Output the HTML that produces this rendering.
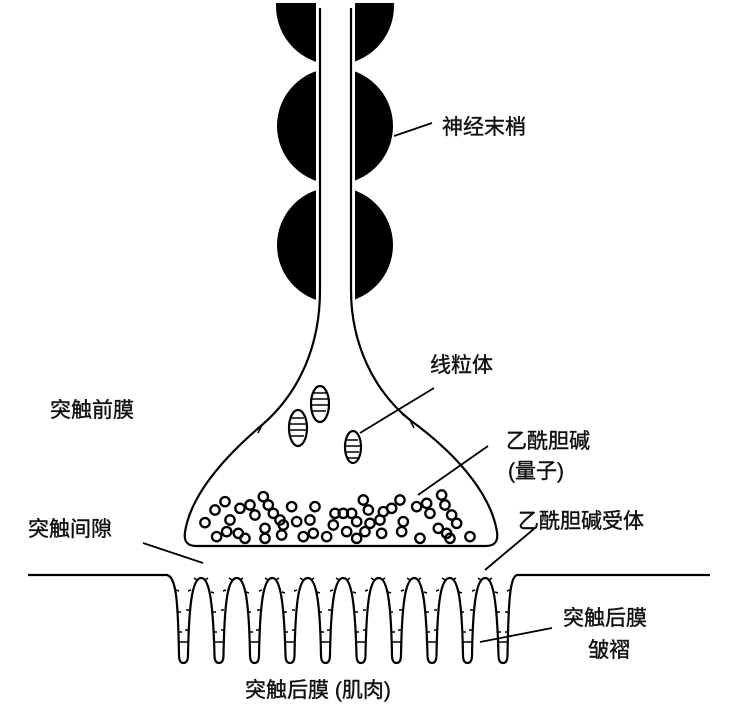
<!DOCTYPE html>
<html><head><meta charset="utf-8"><style>
html,body{margin:0;padding:0;background:#fff;}
svg{display:block;}
text{font-family:"Liberation Sans","Noto Sans CJK SC",sans-serif;font-size:21px;fill:#111;stroke:#111;stroke-width:0.4;}
</style></head><body>
<svg width="737" height="720" viewBox="0 0 737 720" xmlns="http://www.w3.org/2000/svg">
<defs>
<clipPath id="cl"><rect x="0" y="3" width="316" height="300"/></clipPath>
<clipPath id="cr"><rect x="355" y="3" width="100" height="300"/></clipPath>
</defs>
<g clip-path="url(#cl)" fill="#000">
<circle cx="335" cy="6" r="59"/><circle cx="335" cy="126" r="58"/><circle cx="335" cy="245" r="58"/>
</g>
<g clip-path="url(#cr)" fill="#000">
<circle cx="335" cy="6" r="59"/><circle cx="335" cy="126" r="58"/><circle cx="335" cy="245" r="58"/>
</g>
<g fill="none" stroke="#000" stroke-width="2.2">
<path d="M320,8 L320,290 C320,345 300,392 262,425 C215,465 190,500 185,532 Q183,546 196,546 L486,546 Q499,546 497,532 C492,500 465,460 410,420 C375,392 351,345 351,290 L351,8"/>
<path d="M262,425 L270,418 M262,425 L258,433" stroke-width="1.6"/>
<path d="M410,420 L402,414 M410,420 L414,428" stroke-width="1.6"/>
<path d="M394,136 L432,123" stroke-width="1.8"/>
<path d="M434,388 L360,433" stroke-width="1.8"/>
<path d="M488,446 L418,495" stroke-width="1.8"/>
<path d="M143,543 L203,563" stroke-width="1.8"/>
<path d="M535,528 L485,570" stroke-width="1.8"/>
<path d="M552,628 L480,642" stroke-width="1.8"/>
<path d="M28,575 L167,575 C176,577 178,600 179,655 Q179,663 183.5,663 Q188,663 188,655 C189,600 193,578 201.3,578 C209,578 213,600 214.5,655 Q214.5,663 219,663 Q223.5,663 223.5,655 C224.5,600 228,578 236.8,578 C245,578 249,600 250,655 Q250,663 254.5,663 Q259,663 259,655 C260,600 264,578 272.3,578 C280,578 284,600 285.5,655 Q285.5,663 290,663 Q294.5,663 294.5,655 C295.5,600 299,578 307.8,578 C316,578 320,600 321,655 Q321,663 325.5,663 Q330,663 330,655 C331,600 335,578 343.3,578 C351,578 355,600 356.5,655 Q356.5,663 361,663 Q365.5,663 365.5,655 C366.5,600 370,578 378.8,578 C387,578 391,600 392,655 Q392,663 396.5,663 Q401,663 401,655 C402,600 406,578 414.3,578 C422,578 426,600 427.5,655 Q427.5,663 432,663 Q436.5,663 436.5,655 C437.5,600 441,578 449.8,578 C458,578 462,600 463,655 Q463,663 467.5,663 Q472,663 472,655 C473,600 477,578 485.3,578 C493,578 497,600 498.5,655 Q498.5,663 503,663 Q507.5,663 507.5,655 C508.5,600 510,577 517,575 L710,575"/>
<g stroke-width="1.5">
<path d="M179,642h9M214.5,642h9M250,642h9M285.5,642h9M321,642h9M356.5,642h9M392,642h9M427.5,642h9M463,642h9M498.5,642h9"/>
</g>
<g stroke-width="1.5">
<path d="M197,580l-3,-2M205,580l3,-2M191,590l-3,1M211,592l3,1M189,610l-3,0M213,612l3,0M188,630l-3,0M214,632l3,0"/>
<path d="M232,580l-3,-2M240,580l3,-2M226,590l-3,1M246,592l3,1M224,610l-3,0M248,612l3,0M224,630l-3,0M250,632l3,0"/>
<path d="M268,580l-3,-2M276,580l3,-2M262,590l-3,1M282,592l3,1M260,610l-3,0M284,612l3,0M259,630l-3,0M285,632l3,0"/>
<path d="M303,580l-3,-2M311,580l3,-2M297,590l-3,1M317,592l3,1M295,610l-3,0M319,612l3,0M295,630l-3,0M321,632l3,0"/>
<path d="M339,580l-3,-2M347,580l3,-2M333,590l-3,1M353,592l3,1M331,610l-3,0M355,612l3,0M330,630l-3,0M356,632l3,0"/>
<path d="M374,580l-3,-2M382,580l3,-2M368,590l-3,1M388,592l3,1M366,610l-3,0M390,612l3,0M366,630l-3,0M392,632l3,0"/>
<path d="M410,580l-3,-2M418,580l3,-2M404,590l-3,1M424,592l3,1M402,610l-3,0M426,612l3,0M401,630l-3,0M427,632l3,0"/>
<path d="M445,580l-3,-2M453,580l3,-2M439,590l-3,1M459,592l3,1M437,610l-3,0M461,612l3,0M437,630l-3,0M463,632l3,0"/>
<path d="M481,580l-3,-2M489,580l3,-2M475,590l-3,1M495,592l3,1M473,610l-3,0M497,612l3,0M472,630l-3,0M498,632l3,0"/>
<path d="M176,590l3,1M178,612l3,0M179,632l3,0M510,590l-3,1M508,612l-3,0M508,632l-3,0"/>
</g>
<ellipse cx="298" cy="428" rx="9" ry="18"/>
<ellipse cx="320" cy="404" rx="9" ry="18"/>
<ellipse cx="353" cy="447" rx="8" ry="16"/>
<path d="M290,418h14M289,424h17M289,430h17M290,436h14M312,393h14M311,399h17M311,405h17M312,411h14M346,440h12M345,446h15M346,452h13M347,458h11" stroke-width="1.6"/>
</g>
<g transform="translate(170,470) scale(0.3333)" fill="none" stroke="#000" stroke-width="7">
<circle cx="105" cy="158" r="14"/><circle cx="135" cy="120" r="14"/><circle cx="165" cy="95" r="14"/><circle cx="140" cy="200" r="14"/><circle cx="170" cy="185" r="14"/><circle cx="180" cy="150" r="14"/><circle cx="210" cy="115" r="14"/><circle cx="240" cy="105" r="14"/><circle cx="255" cy="135" r="14"/><circle cx="225" cy="205" r="14"/><circle cx="280" cy="80" r="14"/><circle cx="295" cy="105" r="14"/><circle cx="285" cy="175" r="14"/><circle cx="285" cy="205" r="14"/><circle cx="310" cy="130" r="14"/><circle cx="330" cy="150" r="14"/><circle cx="335" cy="195" r="14"/><circle cx="340" cy="165" r="14"/><circle cx="365" cy="110" r="14"/><circle cx="380" cy="155" r="14"/><circle cx="400" cy="200" r="14"/><circle cx="420" cy="150" r="14"/><circle cx="435" cy="110" r="14"/><circle cx="430" cy="190" r="14"/><circle cx="470" cy="200" r="14"/><circle cx="490" cy="165" r="14"/><circle cx="495" cy="130" r="14"/><circle cx="520" cy="130" r="14"/><circle cx="530" cy="185" r="14"/><circle cx="545" cy="130" r="14"/><circle cx="560" cy="155" r="14"/><circle cx="580" cy="90" r="14"/><circle cx="595" cy="120" r="14"/><circle cx="585" cy="185" r="14"/><circle cx="600" cy="160" r="14"/><circle cx="630" cy="150" r="14"/><circle cx="635" cy="190" r="14"/><circle cx="665" cy="115" r="14"/><circle cx="690" cy="90" r="14"/><circle cx="700" cy="155" r="14"/><circle cx="695" cy="185" r="14"/><circle cx="740" cy="110" r="14"/><circle cx="770" cy="100" r="14"/><circle cx="780" cy="130" r="14"/><circle cx="750" cy="205" r="14"/><circle cx="805" cy="175" r="14"/><circle cx="815" cy="75" r="14"/><circle cx="825" cy="105" r="14"/><circle cx="830" cy="190" r="14"/><circle cx="845" cy="135" r="14"/><circle cx="860" cy="160" r="14"/><circle cx="900" cy="200" r="14"/><circle cx="840" cy="205" r="14"/><circle cx="640" cy="125" r="14"/><circle cx="560" cy="205" r="14"/><circle cx="205" cy="190" r="14"/>
</g>
<text x="442" y="134">神经末梢</text>
<text x="430" y="372">线粒体</text>
<text x="50" y="417">突触前膜</text>
<text x="506" y="448">乙酰胆碱</text>
<text x="508" y="478">(量子)</text>
<text x="28" y="536">突触间隙</text>
<text x="518" y="528">乙酰胆碱受体</text>
<text x="563" y="625">突触后膜</text>
<text x="588" y="657">皱褶</text>
<text x="245" y="697">突触后膜 (肌肉)</text>
</svg>
</body></html>
